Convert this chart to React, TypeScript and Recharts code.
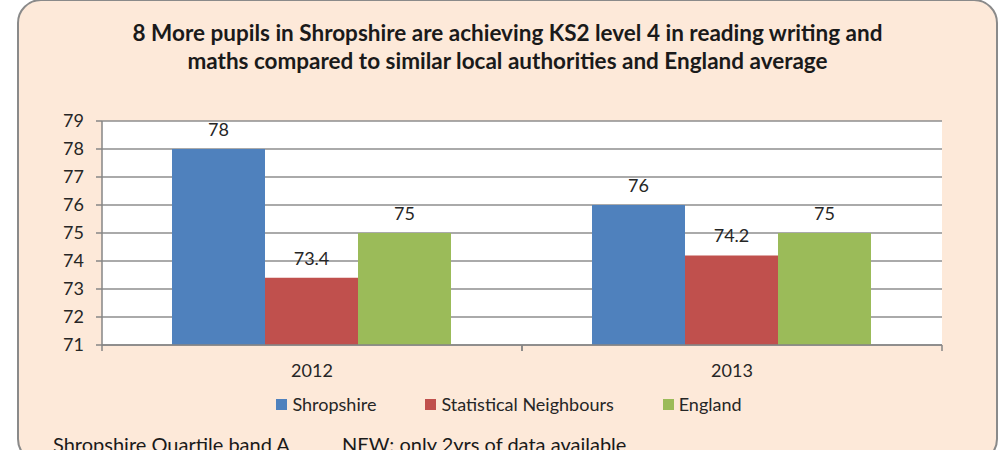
import { BarChart, Bar, XAxis, YAxis, CartesianGrid, Legend, LabelList } from "recharts";

const years = ["2012", "2013"];
const shropshire = [78, 76];
const neighbours = [73.4, 74.2];
const england = [75, 75];
const yTicks = [71, 72, 73, 74, 75, 76, 77, 78, 79];

const SERIES = [
  { key: "shropshire", name: "Shropshire", color: "#4F81BD" },
  { key: "neighbours", name: "Statistical Neighbours", color: "#C0504D" },
  { key: "england", name: "England", color: "#9BBB59" },
];

const data = years.map((year, i) => ({
  year,
  shropshire: shropshire[i],
  neighbours: neighbours[i],
  england: england[i],
}));

const FONT = "Lato, 'Open Sans', sans-serif";
const AXIS = "#868686";

// Excel-style category axis: tick marks sit between categories
const CategoryTick = (props: any) => {
  const { x, y, payload } = props;
  const half = payload.offset || 0;
  return (
    <g>
      <line x1={x - half} x2={x - half} y1={y} y2={y + 6} stroke={AXIS} strokeWidth={1.5} />
      <line x1={x + half} x2={x + half} y1={y} y2={y + 6} stroke={AXIS} strokeWidth={1.5} />
      <text x={x} y={y + 32} textAnchor="middle" fill="#262626" fontSize={18} fontFamily={FONT}>
        {payload.value}
      </text>
    </g>
  );
};

const LegendContent = () => (
  <div style={{ display: "flex", justifyContent: "center", gap: 49, fontFamily: FONT, fontSize: 18, color: "#262626", marginLeft: 14 }}>
    {SERIES.map((s) => (
      <div key={s.key} style={{ display: "flex", alignItems: "center" }}>
        <span style={{ width: 11, height: 11, background: s.color, marginRight: 5, display: "inline-block" }} />
        {s.name}
      </div>
    ))}
  </div>
);

const App = () => {
  return (
    <div style={{ position: "fixed", left: 0, top: 0, width: 1007, height: 450, overflow: "hidden", background: "#fff" }}>
      <div
        style={{
          position: "absolute",
          left: 17,
          top: -1,
          width: 977,
          height: 460,
          background: "#FDE9D9",
          border: "2px solid #8A8A8A",
          borderRadius: 24,
        }}
      />
      <div
        style={{
          position: "absolute",
          left: 17,
          width: 981,
          top: 19,
          textAlign: "center",
          fontFamily: FONT,
          fontWeight: 700,
          fontSize: 22.5,
          lineHeight: "28px",
          color: "#1a1a1a",
        }}
      >
        8 More pupils in Shropshire are achieving KS2 level 4 in reading writing and
        <br />
        maths compared to similar local authorities and England average
      </div>
      <div style={{ position: "absolute", left: 0, top: 0 }}>
        <BarChart
          width={1007}
          height={450}
          data={data}
          margin={{ top: 121, right: 65, bottom: 35, left: 62 }}
          barCategoryGap={70}
          barGap={0}
        >
          <CartesianGrid vertical={false} stroke="#8E8E8E" strokeWidth={1.5} fill="#fff" />
          <XAxis
            dataKey="year"
            height={48}
            axisLine={{ stroke: AXIS, strokeWidth: 1.5 }}
            tickLine={false}
            tickSize={0}
            tickMargin={0}
            tick={<CategoryTick />}
          />
          <YAxis
            width={40}
            domain={[71, 79]}
            ticks={yTicks}
            interval={0}
            allowDataOverflow
            axisLine={{ stroke: AXIS, strokeWidth: 1.5 }}
            tickLine={{ stroke: AXIS, strokeWidth: 1.5 }}
            tickSize={6}
            tickMargin={12}
            tick={{ fill: "#262626", fontSize: 18, fontFamily: FONT }}
          />
          <Legend verticalAlign="bottom" content={<LegendContent />} />
          {SERIES.map((s) => (
            <Bar key={s.key} dataKey={s.key} name={s.name} fill={s.color} isAnimationActive={false}>
              <LabelList dataKey={s.key} position="top" offset={13} fill="#262626" fontSize={18} fontFamily={FONT} />
            </Bar>
          ))}
        </BarChart>
      </div>
      <div
        style={{
          position: "absolute",
          left: 53,
          top: 432,
          fontFamily: FONT,
          fontSize: 20,
          color: "#1a1a1a",
          whiteSpace: "pre",
        }}
      >
        Shropshire Quartile band A
      </div>
      <div
        style={{
          position: "absolute",
          left: 342,
          top: 432,
          fontFamily: FONT,
          fontSize: 20,
          color: "#1a1a1a",
          whiteSpace: "pre",
        }}
      >
        NEW: only 2yrs of data available
      </div>
    </div>
  );
};

export default App;
